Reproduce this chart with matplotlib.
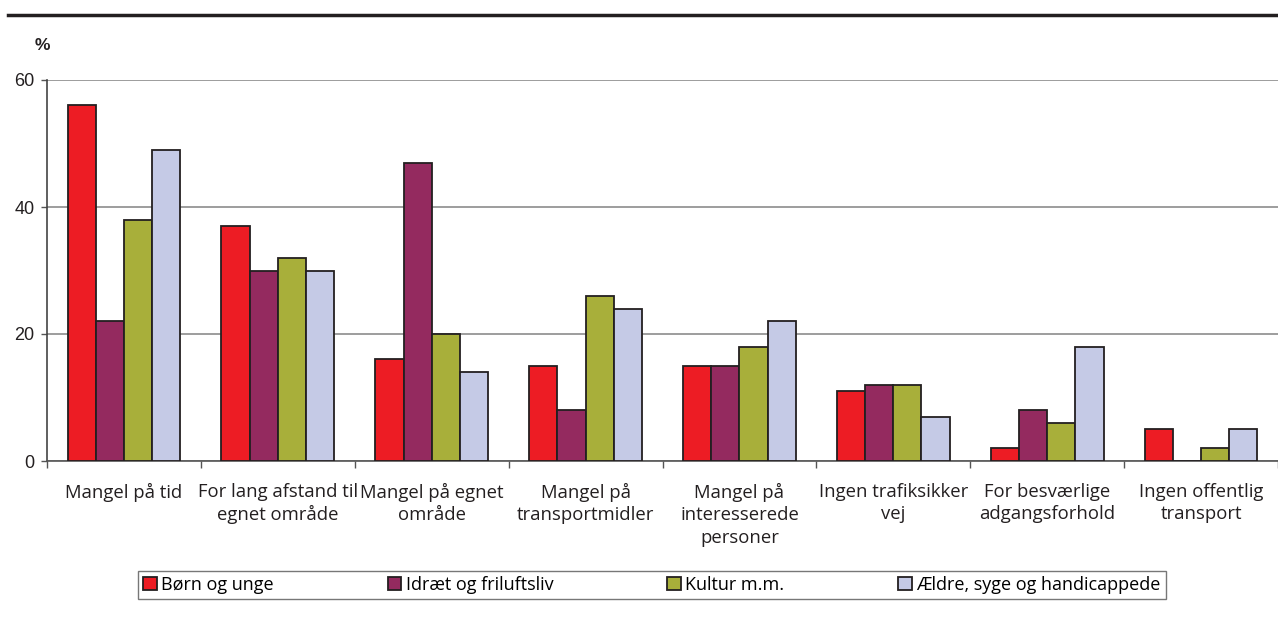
import numpy as np
import matplotlib.pyplot as plt
from matplotlib.lines import Line2D

categories = ["Mangel på tid", "For lang afstand til\negnet område",
              "Mangel på egnet\nområde", "Mangel på\ntransportmidler",
              "Mangel på\ninteresserede\npersoner", "Ingen trafiksikker\nvej",
              "For besværlige\nadgangsforhold", "Ingen offentlig\ntransport"]
series_names = ["Børn og unge", "Idræt og friluftsliv", "Kultur m.m.",
                "Ældre, syge og handicappede"]
born = [56, 37, 16, 15, 15, 11, 2, 5]
idraet = [22, 30, 47, 8, 15, 12, 8, 0]
kultur = [38, 32, 20, 26, 18, 12, 6, 2]
aeldre = [49, 30, 14, 24, 22, 7, 18, 5]
y_ticks = [0, 20, 40, 60]

colors = ["#ED1C24", "#942A5F", "#A8AF3A", "#C5CAE6"]
edge = "#231F20"

fig = plt.figure(figsize=(12.78, 6.19), dpi=100)
ax = fig.add_axes([47/1278, 1 - 461/619, 1 - 47/1278, (461 - 80)/619])

x = np.arange(len(categories)) + 0.5
w = 0.183
handles = []
for k, vals in enumerate([born, idraet, kultur, aeldre]):
    b = ax.bar(x + (k - 1.5) * w, vals, width=w, color=colors[k],
               edgecolor=edge, linewidth=1.3, zorder=3, label=series_names[k])
    handles.append(b)

ax.set_xlim(0, len(categories))
ax.set_ylim(0, 60)
ax.set_yticks(y_ticks)
ax.set_yticklabels([str(t) for t in y_ticks], fontsize=13,
                   family="Liberation Sans", color="#231F20")
ax.yaxis.grid(True, color="#8C8C8C", linewidth=1.2, zorder=0)
ax.set_axisbelow(True)

# group boundary ticks on x axis
ax.set_xticks(np.arange(len(categories) + 1))
ax.set_xticklabels([])
ax.tick_params(axis="x", length=5, color="#555555", width=1)
ax.tick_params(axis="y", length=4, color="#555555", width=1, pad=5)
for i, lab in enumerate(categories):
    ax.text(x[i], -3.4, lab, ha="center", va="top", fontsize=13.3,
            family="Open Sans", color="#231F20", linespacing=1.32)

for s in ["top", "right"]:
    ax.spines[s].set_visible(False)
ax.spines["left"].set_color("#444444")
ax.spines["left"].set_linewidth(1.2)
ax.spines["bottom"].set_color("#555555")
ax.spines["bottom"].set_linewidth(1.2)

# heavy rule at top and percent sign
fig.add_artist(Line2D([8/1278, 1], [1 - 15/619, 1 - 15/619],
                      color="#231F20", linewidth=2.5))
fig.text(42/1278, 1 - 45/619, "%", ha="center", va="center", fontsize=12.5,
         fontweight="bold", family="Liberation Sans", color="#231F20")

leg = fig.legend(handles=handles, labels=series_names, loc="center",
                 bbox_to_anchor=(652/1278, 1 - 585/619), ncol=4,
                 frameon=True, fancybox=False, edgecolor="#555555",
                 prop={"family": "Open Sans", "size": 13},
                 handlelength=0.75, handleheight=0.75, handletextpad=0.25,
                 columnspacing=6.3, borderpad=0.3, borderaxespad=0)
leg.get_frame().set_linewidth(1.0)
for h in leg.legend_handles:
    h.set_edgecolor(edge)
    h.set_linewidth(1.3)

fig.savefig("out.png", dpi=100)
